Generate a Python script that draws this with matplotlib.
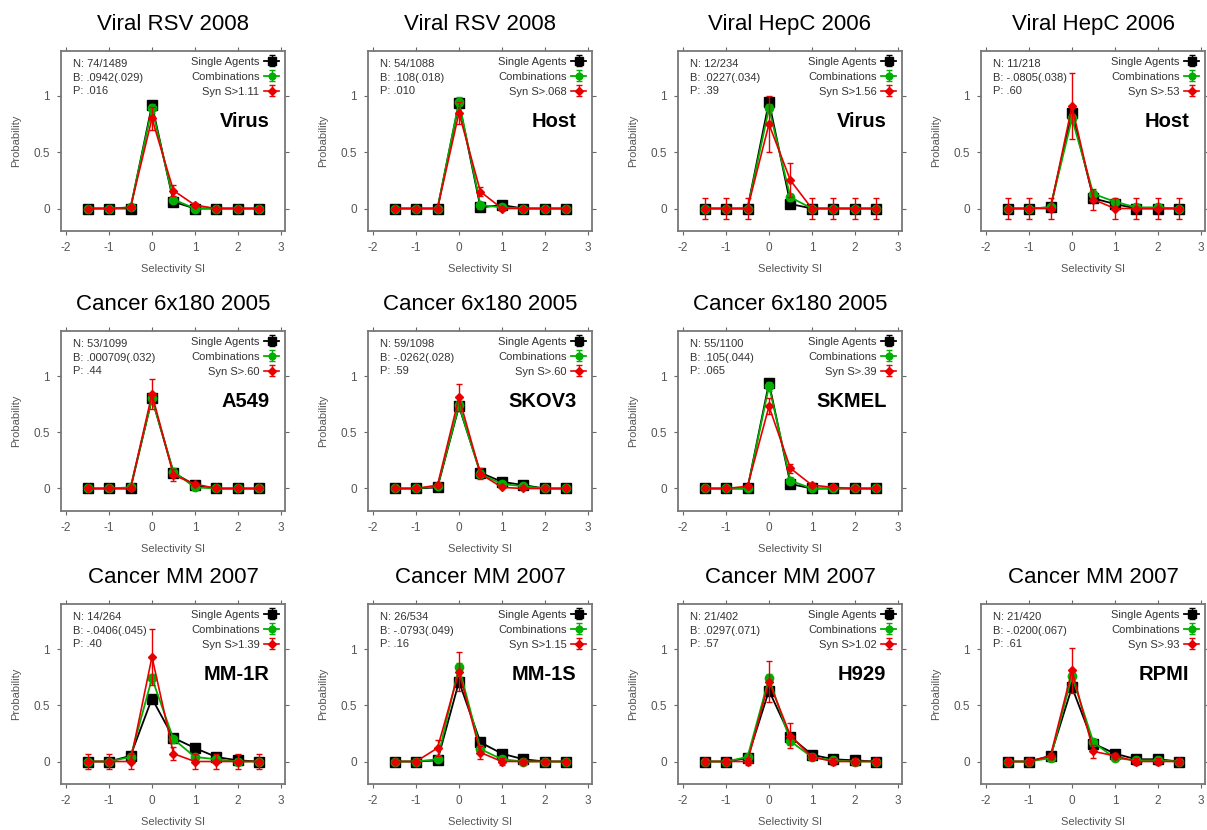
import numpy as np
import matplotlib.pyplot as plt

plt.rcParams['font.family'] = ['Liberation Sans', 'DejaVu Sans']

si = [-1.5, -1, -0.5, 0, 0.5, 1, 1.5, 2, 2.5]

titles = ['Viral RSV 2008', 'Viral RSV 2008', 'Viral HepC 2006', 'Viral HepC 2006',
          'Cancer 6x180 2005', 'Cancer 6x180 2005', 'Cancer 6x180 2005',
          'Cancer MM 2007', 'Cancer MM 2007', 'Cancer MM 2007', 'Cancer MM 2007']
targets = ['Virus', 'Host', 'Virus', 'Host', 'A549', 'SKOV3', 'SKMEL',
           'MM-1R', 'MM-1S', 'H929', 'RPMI']
n_text = ['74/1489', '54/1088', '12/234', '11/218', '53/1099', '59/1098', '55/1100',
          '14/264', '26/534', '21/402', '21/420']
b_text = ['.0942(.029)', '.108(.018)', '.0227(.034)', '-.0805(.038)', '.000709(.032)',
          '-.0262(.028)', '.105(.044)', '-.0406(.045)', '-.0793(.049)', '.0297(.071)',
          '-.0200(.067)']
p_text = ['.016', '.010', '.39', '.60', '.44', '.59', '.065', '.40', '.16', '.57', '.61']
syn_cut = ['1.11', '.068', '1.56', '.53', '.60', '.60', '.39', '1.39', '1.15', '1.02', '.93']

single = [
    [0, 0, 0, 0.92, 0.06, 0, 0, 0, 0],
    [0, 0, 0, 0.94, 0.01, 0.03, 0, 0, 0],
    [0, 0, 0, 0.95, 0.04, 0, 0, 0, 0],
    [0, 0, 0.01, 0.85, 0.09, 0.04, 0, 0, 0],
    [0, 0, 0, 0.80, 0.14, 0.03, 0, 0, 0],
    [0, 0, 0.01, 0.73, 0.14, 0.06, 0.03, 0, 0],
    [0, 0, 0, 0.94, 0.04, 0, 0, 0, 0],
    [0, 0, 0.05, 0.56, 0.21, 0.12, 0.04, 0.01, 0],
    [0, 0, 0.01, 0.71, 0.17, 0.07, 0.02, 0, 0],
    [0, 0, 0.03, 0.63, 0.22, 0.06, 0.02, 0.01, 0],
    [0, 0, 0.05, 0.66, 0.16, 0.07, 0.02, 0.02, 0],
]
combos = [
    [0, 0, 0.01, 0.89, 0.08, 0, 0, 0, 0],
    [0, 0, 0, 0.95, 0.03, 0.01, 0, 0, 0],
    [0, 0, 0, 0.89, 0.10, 0, 0, 0, 0],
    [0, 0, 0.01, 0.80, 0.13, 0.06, 0.01, 0.01, 0],
    [0, 0, 0.01, 0.80, 0.15, 0.01, 0, 0, 0],
    [0, 0, 0.02, 0.74, 0.13, 0.04, 0.02, 0, 0],
    [0, 0, 0, 0.91, 0.07, 0, 0, 0, 0],
    [0, 0, 0.04, 0.74, 0.20, 0.04, 0.02, 0, 0],
    [0, 0, 0.02, 0.84, 0.11, 0.02, 0, 0, 0],
    [0, 0, 0.04, 0.74, 0.18, 0.04, 0.01, 0, 0],
    [0, 0, 0.03, 0.76, 0.17, 0.03, 0.01, 0.01, 0],
]
synergy = [
    [0, 0, 0.01, 0.80, 0.16, 0.03, 0, 0, 0],
    [0, 0, 0, 0.85, 0.15, 0, 0, 0, 0],
    [0, 0, 0, 0.75, 0.25, 0, 0, 0, 0],
    [0, 0, 0, 0.91, 0.08, 0, 0, 0, 0],
    [0, 0, 0, 0.84, 0.12, 0.04, 0, 0, 0],
    [0, 0, 0.03, 0.81, 0.13, 0.01, 0, 0, 0],
    [0, 0, 0.02, 0.73, 0.18, 0.03, 0.01, 0, 0],
    [0, 0, 0, 0.93, 0.07, 0, 0, 0, 0],
    [0, 0, 0.12, 0.80, 0.08, 0, 0, 0, 0],
    [0, 0, 0, 0.71, 0.23, 0.04, 0, 0, 0],
    [0, 0, 0.05, 0.81, 0.09, 0.05, 0, 0, 0],
]
synergy_err = [
    [0, 0, 0.01, 0.10, 0.05, 0.02, 0, 0, 0],
    [0, 0, 0, 0.10, 0.04, 0.01, 0, 0, 0],
    [0.09, 0.09, 0.09, 0.25, 0.15, 0.09, 0.09, 0.09, 0.09],
    [0.09, 0.09, 0.09, 0.29, 0.09, 0.09, 0.09, 0.09, 0.09],
    [0, 0, 0.01, 0.13, 0.05, 0.02, 0, 0, 0],
    [0, 0, 0.02, 0.12, 0.05, 0.01, 0, 0, 0],
    [0, 0, 0.02, 0.07, 0.04, 0.02, 0.01, 0, 0],
    [0.07, 0.07, 0.07, 0.25, 0.06, 0.07, 0.07, 0.07, 0.07],
    [0.02, 0.02, 0.07, 0.17, 0.06, 0.03, 0.02, 0.02, 0.02],
    [0.03, 0.03, 0.03, 0.18, 0.11, 0.03, 0.03, 0.03, 0.03],
    [0.03, 0.03, 0.03, 0.20, 0.06, 0.03, 0.03, 0.03, 0.03],
]
single_err = [0, 0, 0.01, 0.02, 0.02, 0.01, 0, 0, 0]
combos_err = [0, 0, 0.01, 0.04, 0.03, 0.01, 0, 0, 0]

# panel slots: (column, row) in the grid, middle row has no 4th panel
slots = [(0, 0), (1, 0), (2, 0), (3, 0), (0, 1), (1, 1), (2, 1),
         (0, 2), (1, 2), (2, 2), (3, 2)]
col_left = [61, 368, 678, 981]
row_top = [51, 331, 604]
W, H = 1207, 830
aw, ah = 224, 180

grey = '#555555'
fig = plt.figure(figsize=(W / 100, H / 100), dpi=100)

for i, (c, r) in enumerate(slots):
    ax = fig.add_axes([col_left[c] / W, (H - row_top[r] - ah) / H, aw / W, ah / H])

    ax.errorbar(si, single[i], yerr=single_err, color='black', marker='s', ms=6.5,
                lw=1.3, elinewidth=1, capsize=2, label='Single Agents', zorder=2)
    ax.errorbar(si, combos[i], yerr=combos_err, color='#00b000', marker='o', ms=6,
                lw=1.3, elinewidth=1, capsize=2, label='Combinations', zorder=3)
    ax.errorbar(si, synergy[i], yerr=synergy_err[i], color='#e80000', marker='D', ms=4.5,
                lw=1.2, elinewidth=1, capsize=2, label='Syn S>' + syn_cut[i], zorder=4)

    ax.set_xlim(-2.12, 3.1)
    ax.set_ylim(-0.2, 1.4)
    ax.set_xticks([-2, -1, 0, 1, 2, 3])
    ax.set_yticks([0, 0.5, 1])
    ax.set_xticklabels(['-2', '-1', '0', '1', '2', '3'])
    ax.set_yticklabels(['0', '0.5', '1'])
    ax.tick_params(direction='out', top=True, right=True, length=3, width=0.8,
                   color='#666666', labelcolor=grey, labelsize=8.5, pad=5)
    for s in ax.spines.values():
        s.set_color('#777777')
        s.set_linewidth(1.3)

    ax.set_xlabel('Selectivity SI', fontsize=8, color=grey, labelpad=7)
    ax.set_ylabel('Probability', fontsize=8, color=grey, labelpad=9)
    ax.set_title(titles[i], fontsize=16, pad=15)

    ax.text(0.053, 0.955, 'N: %s\nB: %s\nP: %s' % (n_text[i], b_text[i], p_text[i]),
            transform=ax.transAxes, ha='left', va='top', fontsize=8, color='#333333',
            linespacing=1.45)
    ax.text(0.93, 0.61, targets[i], transform=ax.transAxes, ha='right', va='center',
            fontsize=14.5, fontweight='bold')

    leg = ax.legend(loc='upper right', markerfirst=False, frameon=False, fontsize=8,
                    handlelength=1.4, handletextpad=0.4, borderaxespad=0.2,
                    labelspacing=0.45, borderpad=0.3, markerscale=0.8)
    for t in leg.get_texts():
        t.set_color('#333333')

fig.savefig('out.png', dpi=100)
